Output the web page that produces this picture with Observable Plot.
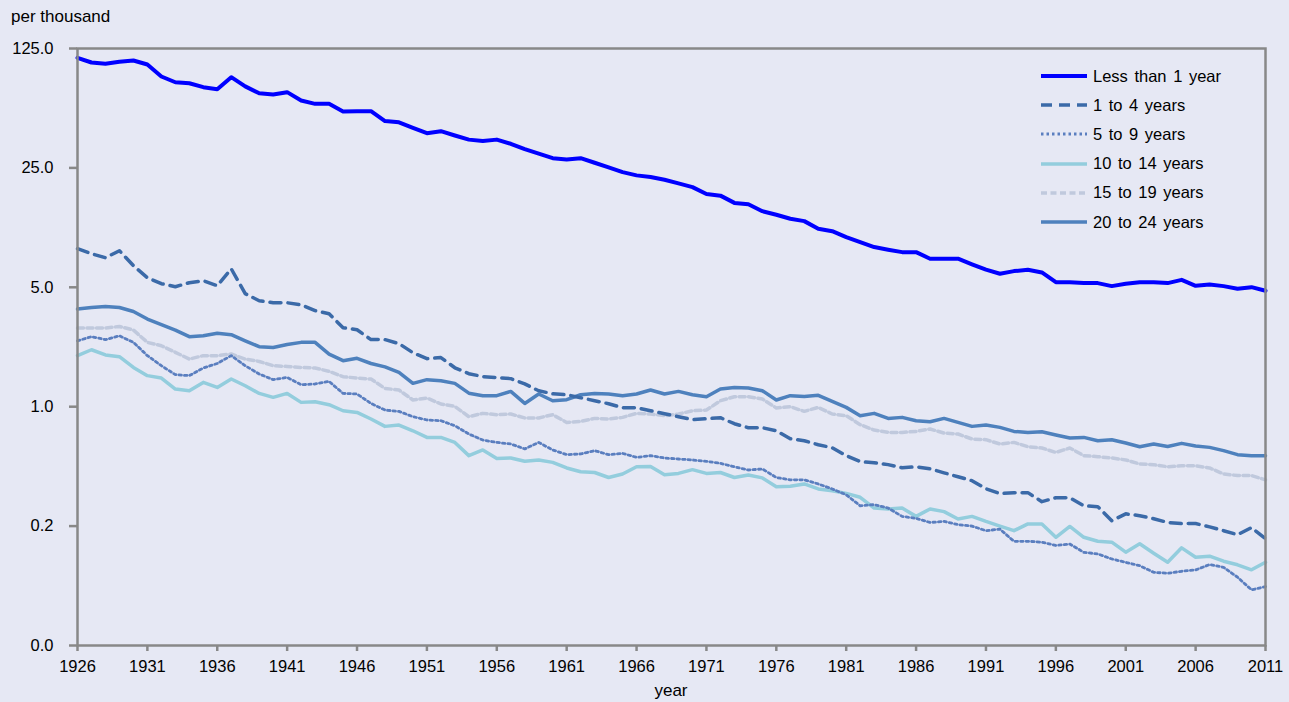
<!DOCTYPE html>
<html><head><meta charset="utf-8">
<script src="https://cdn.jsdelivr.net/npm/d3@7"></script>
<script src="https://cdn.jsdelivr.net/npm/@observablehq/plot@0.6"></script>
<style>
html,body{margin:0;padding:0;background:#E6E8F4;}
#wrap{position:relative;width:1289px;height:702px;overflow:hidden;font-family:"Liberation Sans",Arial,sans-serif;color:#000;}
#wrap svg.plot{position:absolute;left:0;top:0;}
.lbl{position:absolute;font-size:17px;line-height:17px;white-space:nowrap;}
#ylab{left:11px;top:8px;}
#xlab{left:571px;width:200px;text-align:center;top:682px;}
.lg{position:absolute;left:1040px;height:20px;display:flex;align-items:center;font-size:16.5px;word-spacing:2px;white-space:nowrap;}
.lg svg{display:block;margin-right:5px;}
</style></head>
<body><div id="wrap"><div id="ylab" class="lbl">per thousand</div><div id="xlab" class="lbl">year</div></div>
<script>
const years = d3.range(1926, 2012);
const seriesNames = ["Less than 1 year","1 to 4 years","5 to 9 years","10 to 14 years","15 to 19 years","20 to 24 years"];
const xTicks = [1926,1931,1936,1941,1946,1951,1956,1961,1966,1971,1976,1981,1986,1991,1996,2001,2006,2011];
const yTicks = [0.04,0.2,1,5,25,125];

const lessThan1 = [110.3,103.5,101.7,104.5,106.3,100.7,85.7,79.3,78.3,74.2,
72.2,84.9,75.0,68.4,67.2,69.4,62.0,59.3,59.3,53.5,
53.7,53.7,47.0,46.2,42.9,39.9,41.0,38.7,36.6,35.9,
36.6,34.6,32.2,30.3,28.5,28.0,28.5,26.8,25.2,23.6,
22.6,22.1,21.3,20.3,19.3,17.6,17.2,15.6,15.3,13.95,
13.3,12.6,12.2,11.0,10.65,9.83,9.18,8.6,8.3,8.03,
8.03,7.35,7.35,7.35,6.81,6.34,6.0,6.22,6.34,6.11,
5.36,5.36,5.29,5.29,5.08,5.25,5.36,5.36,5.29,5.53,
5.1,5.19,5.08,4.9,5.01,4.77];
const age1to4 = [8.41,7.86,7.45,8.19,6.69,5.69,5.25,5.04,5.32,5.46,
5.11,6.42,4.59,4.17,4.06,4.06,3.95,3.65,3.50,2.90,
2.82,2.47,2.47,2.34,2.07,1.91,1.94,1.69,1.56,1.50,
1.48,1.46,1.36,1.24,1.19,1.175,1.129,1.084,1.041,0.987,
0.987,0.947,0.91,0.874,0.839,0.85,0.862,0.795,0.753,0.753,
0.723,0.649,0.632,0.599,0.575,0.517,0.477,0.47,0.458,0.439,
0.445,0.433,0.41,0.389,0.369,0.331,0.31,0.314,0.314,0.278,
0.293,0.293,0.263,0.26,0.215,0.236,0.23,0.221,0.21,0.207,
0.207,0.198,0.188,0.178,0.196,0.169];
const age5to9 = [2.43,2.57,2.47,2.60,2.38,1.99,1.738,1.54,1.52,1.685,
1.79,1.99,1.738,1.554,1.44,1.484,1.345,1.358,1.406,1.196,
1.187,1.045,0.956,0.939,0.874,0.836,0.828,0.774,0.692,0.638,
0.618,0.605,0.566,0.618,0.558,0.524,0.529,0.553,0.524,0.533,
0.505,0.517,0.501,0.494,0.488,0.479,0.466,0.445,0.426,0.432,
0.385,0.373,0.373,0.353,0.33,0.305,0.263,0.267,0.255,0.228,
0.222,0.21,0.213,0.204,0.2,0.188,0.192,0.163,0.163,0.161,
0.154,0.157,0.1404,0.1374,0.1284,0.1227,0.1173,0.1073,0.1059,0.1088,
0.1108,0.119,0.1148,0.1004,0.0847,0.0885];
const age10to14 = [1.99,2.155,2.01,1.962,1.698,1.52,1.472,1.269,1.24,1.388,
1.297,1.452,1.327,1.196,1.134,1.196,1.06,1.07,1.027,0.947,
0.926,0.847,0.767,0.781,0.723,0.661,0.661,0.618,0.517,0.558,
0.498,0.501,0.479,0.488,0.472,0.438,0.416,0.412,0.385,0.404,
0.445,0.447,0.4,0.407,0.428,0.407,0.412,0.385,0.398,0.383,
0.34,0.342,0.353,0.33,0.322,0.311,0.295,0.255,0.252,0.255,
0.228,0.252,0.243,0.22,0.228,0.213,0.2,0.188,0.206,0.206,
0.172,0.199,0.172,0.163,0.161,0.1407,0.1575,0.1388,0.1229,0.1492,
0.1315,0.1333,0.1246,0.1187,0.111,0.1229];
const age15to19 = [2.888,2.89,2.89,2.95,2.81,2.38,2.275,2.08,1.90,1.99,
1.99,2.035,1.90,1.84,1.738,1.72,1.698,1.685,1.61,1.498,
1.472,1.452,1.28,1.252,1.095,1.124,1.037,1.004,0.874,0.914,
0.898,0.906,0.859,0.859,0.898,0.809,0.82,0.854,0.847,0.866,
0.914,0.906,0.886,0.906,0.947,0.956,1.084,1.144,1.144,1.109,
0.983,1.0,0.939,0.991,0.906,0.886,0.785,0.73,0.707,0.707,
0.717,0.74,0.701,0.692,0.647,0.641,0.605,0.618,0.583,0.573,
0.54,0.573,0.517,0.51,0.501,0.488,0.462,0.458,0.445,0.451,
0.451,0.438,0.404,0.395,0.395,0.373];
const age20to24 = [3.73,3.81,3.86,3.81,3.61,3.26,3.02,2.81,2.57,2.60,
2.69,2.64,2.43,2.245,2.22,2.31,2.38,2.38,2.03,1.86,
1.92,1.79,1.71,1.59,1.37,1.44,1.42,1.37,1.20,1.16,
1.16,1.229,1.045,1.187,1.084,1.099,1.175,1.196,1.187,1.16,
1.187,1.252,1.187,1.229,1.175,1.144,1.269,1.297,1.287,1.24,
1.095,1.16,1.149,1.165,1.074,0.991,0.886,0.914,0.854,0.866,
0.828,0.817,0.854,0.809,0.767,0.781,0.757,0.717,0.707,0.714,
0.683,0.656,0.661,0.632,0.641,0.613,0.583,0.605,0.585,0.61,
0.589,0.578,0.553,0.524,0.517,0.517];

const seriesValues = [lessThan1, age1to4, age5to9, age10to14, age15to19, age20to24];
const styles = [
  {stroke:"#0000FF", strokeWidth:4, strokeDasharray:null},
  {stroke:"#3B6AA8", strokeWidth:3.5, strokeDasharray:"11,7"},
  {stroke:"#5A7EBF", strokeWidth:2.8, strokeDasharray:"2.5,3"},
  {stroke:"#93CDDD", strokeWidth:3.5, strokeDasharray:null},
  {stroke:"#C0C9DD", strokeWidth:3.5, strokeDasharray:"6,3.5"},
  {stroke:"#4E81BD", strokeWidth:3.5, strokeDasharray:null}
];
const rows = seriesNames.map((name, i) => years.map((yr, j) => ({year: yr, value: seriesValues[i][j], series: name})));
const drawOrder = [4,3,2,5,1,0];

const chart = Plot.plot({
  width: 1289, height: 702,
  marginLeft: 77, marginRight: 24, marginTop: 48, marginBottom: 57,
  style: {background: "transparent", fontFamily: "'Liberation Sans', Arial, sans-serif", fontSize: "16.5px", color: "#000"},
  x: {domain: [1926, 2011]},
  y: {type: "log", base: 5, domain: [0.04, 125]},
  marks: [
    Plot.axisX({ticks: xTicks, tickFormat: d => String(d), tickSize: 6, tickPadding: 9, stroke: "#888", strokeWidth: 2.5, fill: "#000", label: null}),
    Plot.axisY({ticks: yTicks, tickFormat: d3.format(".1f"), tickSize: 8, tickPadding: 16, stroke: "#888", strokeWidth: 2.5, fill: "#000", label: null}),
    ...drawOrder.map(i => Plot.line(rows[i], {x: "year", y: "value", stroke: styles[i].stroke, strokeWidth: styles[i].strokeWidth, strokeDasharray: styles[i].strokeDasharray, strokeLinejoin: "round"})),
    Plot.frame({stroke: "#888", strokeWidth: 2.5})
  ]
});
const wrap = document.getElementById("wrap");
wrap.insertBefore(chart, wrap.firstChild);

seriesNames.forEach((name, i) => {
  const row = document.createElement("div");
  row.className = "lg";
  row.style.top = (66 + i * 29.2) + "px";
  const s = styles[i];
  row.innerHTML = `<svg width="48" height="10"><line x1="1" x2="47" y1="5" y2="5" stroke="${s.stroke}" stroke-width="${s.strokeWidth}" ${s.strokeDasharray ? `stroke-dasharray="${s.strokeDasharray}"` : ""}/></svg><span>${name}</span>`;
  wrap.appendChild(row);
});
</script>
</body></html>
